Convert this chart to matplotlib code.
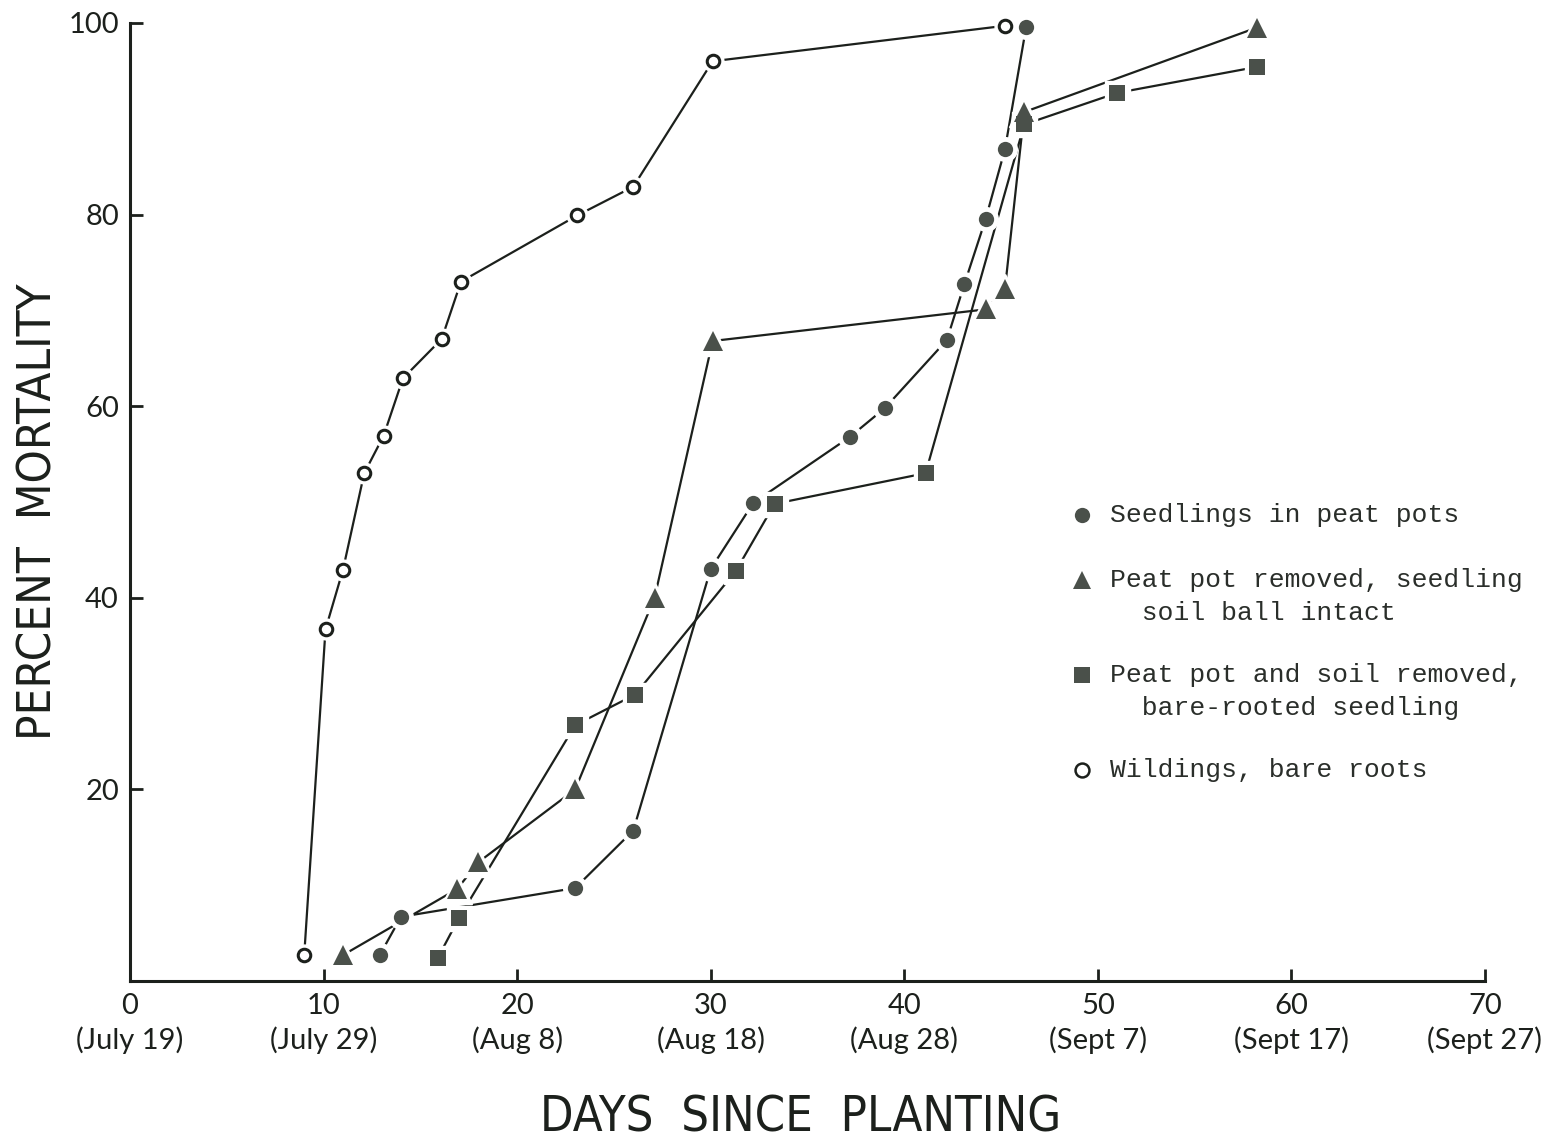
import matplotlib
matplotlib.use("Agg")
import matplotlib.pyplot as plt

# days since planting / percent mortality
peat_days = [12.9, 14.0, 23.0, 26.0, 30.0, 32.2, 37.2, 39.0, 42.2, 43.1, 44.2, 45.2, 46.3]
peat_mort = [2.7, 6.7, 9.7, 15.7, 43.0, 49.9, 56.8, 59.8, 66.9, 72.7, 79.5, 86.8, 99.6]

ball_days = [11.0, 16.9, 18.0, 23.0, 27.1, 30.1, 44.2, 45.2, 46.2, 58.2]
ball_mort = [2.7, 9.6, 12.4, 20.0, 40.0, 66.8, 70.1, 72.2, 90.7, 99.5]

bare_days = [15.9, 17.0, 23.0, 26.1, 31.3, 33.3, 41.1, 46.2, 51.0, 58.2]
bare_mort = [2.4, 6.6, 26.7, 29.9, 42.8, 49.8, 53.0, 89.4, 92.7, 95.4]

wild_days = [9.0, 10.1, 11.0, 12.1, 13.1, 14.1, 16.1, 17.1, 23.1, 26.0, 30.1, 45.2]
wild_mort = [2.7, 36.7, 42.9, 53.0, 56.9, 62.9, 67.0, 73.0, 79.9, 82.9, 96.0, 99.7]

x_ticks = [0, 10, 20, 30, 40, 50, 60, 70]
x_dates = ["July 19", "July 29", "Aug 8", "Aug 18", "Aug 28", "Sept 7", "Sept 17", "Sept 27"]
y_ticks = [20, 40, 60, 80, 100]

legend_labels = [
    "Seedlings in peat pots",
    "Peat pot removed, seedling\n  soil ball intact",
    "Peat pot and soil removed,\n  bare-rooted seedling",
    "Wildings, bare roots",
]

ink = "#1c201c"
fill = "#4a504a"
tick_font = ["Lato", "DejaVu Sans"]
title_font = ["DejaVu Sans"]

fig = plt.figure(figsize=(15.59, 11.46), dpi=100)
ax = fig.add_axes([0.0834, 0.144, 0.8691, 0.836])


def series(x, y, marker, ms, face, mew=0):
    ax.plot(x, y, "-", color=ink, lw=1.6, zorder=2, clip_on=False)
    # white halo so the line stops short of each marker
    ax.plot(x, y, marker, ls="none", ms=ms + 6, mfc="white", mec="white", zorder=3, clip_on=False)
    ax.plot(x, y, marker, ls="none", ms=ms, mfc=face, mec=ink if mew else face,
            mew=mew, zorder=4, clip_on=False)


series(wild_days, wild_mort, "o", 9, "white", mew=2.2)
series(bare_days, bare_mort, "s", 12, fill)
series(ball_days, ball_mort, "^", 15, fill)
series(peat_days, peat_mort, "o", 11, fill)

ax.set_xlim(0, 70)
ax.set_ylim(0, 100)
for side in ["top", "right"]:
    ax.spines[side].set_visible(False)
for side in ["left", "bottom"]:
    ax.spines[side].set_linewidth(2.2)
    ax.spines[side].set_color(ink)

ax.set_xticks(x_ticks)
ax.set_xticklabels([f"{d}\n({s})" for d, s in zip(x_ticks, x_dates)],
                   family=tick_font, fontsize=21, linespacing=1.3, color=ink)
ax.set_yticks(y_ticks)
ax.set_yticklabels([str(v) for v in y_ticks], family=tick_font, fontsize=21, color=ink)
ax.tick_params(axis="both", direction="in", length=9, width=2, color=ink)
ax.tick_params(axis="x", pad=9)
ax.tick_params(axis="y", pad=8)

ax.set_xlabel("DAYS  SINCE  PLANTING", family=title_font, fontstretch="condensed",
              fontsize=35, color=ink, va="center")
ax.xaxis.set_label_coords(0.495, -0.142)
ax.set_ylabel("PERCENT  MORTALITY", family=title_font, fontstretch="condensed",
              fontsize=34, color=ink, va="center")
ax.yaxis.set_label_coords(-0.067, 0.49)

# legend drawn by hand so markers sit on the first line of each entry
leg_y = [0.4864, 0.4186, 0.3194, 0.2203]
leg_marks = [("o", 11, fill, 0), ("^", 13, fill, 0), ("s", 11, fill, 0), ("o", 10, "white", 1.8)]
for yy, lab, (m, ms, fc, mew) in zip(leg_y, legend_labels, leg_marks):
    ax.plot([0.7026], [yy], m, ms=ms, mfc=fc, mec=ink if mew else fc, mew=mew,
            transform=ax.transAxes, clip_on=False)
    ax.text(0.7232, yy + 0.012, lab, transform=ax.transAxes,
            family=["Liberation Mono", "DejaVu Sans Mono"],
            fontsize=19, color="#2a2e2a", va="top", linespacing=1.45)

fig.savefig("out.png", dpi=100, facecolor="white")
